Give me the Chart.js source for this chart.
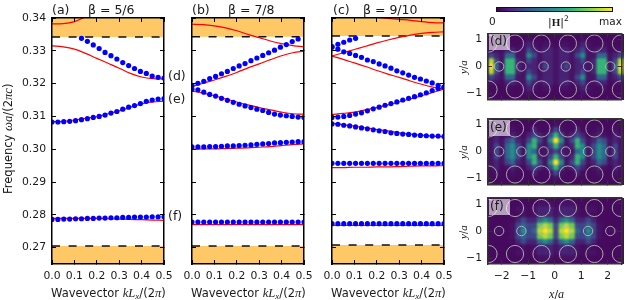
<!DOCTYPE html>
<html>
<head>
<meta charset="utf-8">
<script src="https://cdn.jsdelivr.net/npm/chart.js@4"></script>
<style>
html, body { margin: 0; padding: 0; background: #fff; }
body { width: 631px; height: 300px; position: relative; overflow: hidden; font-family: "DejaVu Sans", sans-serif; color: #1a1a1a; }
canvas { position: absolute; top: 0; filter: blur(0.35px); }
.clip { position: absolute; left: 488px; width: 136px; height: 66px; overflow: hidden; background: #460b5e; }
.clip canvas { left: -28px; filter: blur(1.3px); }
.t { position: absolute; white-space: nowrap; line-height: 1; }
.t i { font-family: "Liberation Serif", serif; font-size: 110%; }
.t b { font-family: "Liberation Serif", serif; }
.t sub { font-size: 70%; vertical-align: -2px; line-height: 0; }
.t sup { font-size: 70%; vertical-align: 5px; line-height: 0; }
.up { transform-origin: 0 0; transform: rotate(-90deg); }
.tag { position: absolute; width: 21px; height: 16px; background: rgba(255,255,255,0.6); font-size: 12px; line-height: 15px; padding-left: 1px; box-sizing: border-box; }
#cbar { position: absolute; left: 496px; top: 6.5px; width: 117px; height: 5px; border: 1px solid #111; box-sizing: border-box;
  background: linear-gradient(to right, #440154, #482878, #3e4989, #31688e, #26828e, #1f9e89, #35b779, #6ece58, #b5de2b, #fde725); }
</style>
</head>
<body>
<canvas id="chA" width="180" height="300" style="left:0"></canvas>
<canvas id="chB" width="180" height="300" style="left:140px"></canvas>
<canvas id="chC" width="180" height="300" style="left:280px"></canvas>
<div class="clip" style="top:33.5px"><canvas id="cellsD" width="171" height="300" style="top:-33.5px"></canvas></div>
<div class="clip" style="top:118.5px"><canvas id="cellsE" width="171" height="300" style="top:-118.5px"></canvas></div>
<div class="clip" style="top:198px"><canvas id="cellsF" width="171" height="300" style="top:-198px"></canvas></div>
<canvas id="heatD" width="171" height="300" style="left:460px"></canvas>
<canvas id="heatE" width="171" height="300" style="left:460px"></canvas>
<canvas id="heatF" width="171" height="300" style="left:460px"></canvas>

<div class="t" style="left:52px;top:4px;font-size:12.5px">(a)</div>
<div class="t" style="left:88px;top:4px;font-size:12.5px">β = 5/6</div>
<div class="t" style="left:192px;top:4px;font-size:12.5px">(b)</div>
<div class="t" style="left:228px;top:4px;font-size:12.5px">β = 7/8</div>
<div class="t" style="left:333px;top:4px;font-size:12.5px">(c)</div>
<div class="t" style="left:363px;top:4px;font-size:12.5px">β = 9/10</div>
<div class="t" style="left:168px;top:70px;font-size:12.5px">(d)</div>
<div class="t" style="left:168px;top:93px;font-size:12.5px">(e)</div>
<div class="t" style="left:168px;top:210px;font-size:12.5px">(f)</div>

<div class="t up" style="left:2px;top:194px;font-size:11.5px">Frequency <i>ωa</i>/(2<i>πc</i>)</div>
<div class="t" style="left:51px;top:287px;font-size:11.5px">Wavevector <i>kL<sub>x</sub></i>/(2<i>π</i>)</div>
<div class="t" style="left:191px;top:287px;font-size:11.5px">Wavevector <i>kL<sub>x</sub></i>/(2<i>π</i>)</div>
<div class="t" style="left:331px;top:287px;font-size:11.5px">Wavevector <i>kL<sub>x</sub></i>/(2<i>π</i>)</div>

<div id="cbar"></div>
<div class="t" style="left:489px;top:16px;font-size:10.5px">0</div>
<div class="t" style="left:548px;top:17px;font-size:11px">|<b>H</b>|<sup>2</sup></div>
<div class="t" style="left:599px;top:16px;font-size:10.5px">max</div>
<div class="t up" style="left:458px;top:74px;font-size:10px"><i>y</i>/<i>a</i></div>
<div class="t up" style="left:458px;top:159px;font-size:10px"><i>y</i>/<i>a</i></div>
<div class="t up" style="left:458px;top:239px;font-size:10px"><i>y</i>/<i>a</i></div>
<div class="t" style="left:549px;top:288px;font-size:11px"><i>x</i>/<i>a</i></div>
<div class="tag" style="left:489px;top:34px">(d)</div>
<div class="tag" style="left:489px;top:120px">(e)</div>
<div class="tag" style="left:489px;top:199px">(f)</div>

<script>
const freqTicks = [0.27, 0.28, 0.29, 0.30, 0.31, 0.32, 0.33, 0.34];
const waveTicks = [0, 0.1, 0.2, 0.3, 0.4, 0.5];
const xaTicks = [-2, -1, 0, 1, 2];
const yaTicks = [-1, 0, 1];

// k values of the simulated points and of the model curves
const kDots = [0, 0.0263, 0.0526, 0.0789, 0.1053, 0.1316, 0.1579, 0.1842, 0.2105, 0.2368, 0.2632, 0.2895, 0.3158, 0.3421, 0.3684, 0.3947, 0.4211, 0.4474, 0.4737, 0.5];
const kLine = [0, 0.05, 0.1, 0.15, 0.2, 0.25, 0.3, 0.35, 0.4, 0.45, 0.5];

// panel (a)
const dotsA1 = [0.3338, 0.3329, 0.3318, 0.3307, 0.3295, 0.3285, 0.3275, 0.3264, 0.3255, 0.3246, 0.3237, 0.3231, 0.3223, 0.3219, 0.3217];
const dotsA2 = [0.3083, 0.3083, 0.3084, 0.3085, 0.3087, 0.3090, 0.3093, 0.3097, 0.3100, 0.3104, 0.3110, 0.3115, 0.3122, 0.3128, 0.3133, 0.3139, 0.3146, 0.3150, 0.3153, 0.3154];
const dotsA3 = [0.2786, 0.2786, 0.2787, 0.2787, 0.2788, 0.2788, 0.2789, 0.2789, 0.2790, 0.2790, 0.2791, 0.2791, 0.2792, 0.2792, 0.2793, 0.2793, 0.2793, 0.2794, 0.2794, 0.2794];
const lineA0 = [0.3382, 0.3383, 0.3389, 0.3404];
const lineA1 = [0.3315, 0.3312, 0.3305, 0.3292, 0.3277, 0.3262, 0.3247, 0.3231, 0.3220, 0.3215, 0.3214];
const lineA2 = [0.3084, 0.3085, 0.3089, 0.3094, 0.3099, 0.3108, 0.3117, 0.3128, 0.3138, 0.3144, 0.3146];
const lineA3 = [0.2789, 0.2789, 0.2789, 0.2789, 0.2789, 0.2788, 0.2787, 0.2786, 0.2785, 0.2784, 0.2783];

// panel (b)
const dotsB1 = [0.3194, 0.3201, 0.3207, 0.3215, 0.3222, 0.3230, 0.3237, 0.3246, 0.3254, 0.3261, 0.3270, 0.3278, 0.3286, 0.3294, 0.3302, 0.3311, 0.3319, 0.3328, 0.3336];
const dotsB2 = [0.3183, 0.3181, 0.3174, 0.3167, 0.3162, 0.3155, 0.3149, 0.3143, 0.3137, 0.3132, 0.3127, 0.3122, 0.3118, 0.3112, 0.3107, 0.3104, 0.3102, 0.3100, 0.3098, 0.3097];
const dotsB3 = [0.3007, 0.3007, 0.3007, 0.3008, 0.3008, 0.3009, 0.3010, 0.3010, 0.3011, 0.3012, 0.3013, 0.3015, 0.3016, 0.3017, 0.3019, 0.3020, 0.3021, 0.3022, 0.3023, 0.3023];
const dotsB4 = [0.2778, 0.2778, 0.2778, 0.2778, 0.2778, 0.2778, 0.2778, 0.2778, 0.2778, 0.2778, 0.2778, 0.2778, 0.2778, 0.2778, 0.2778, 0.2778, 0.2778, 0.2778, 0.2778, 0.2778];
const lineB0 = [0.3381, 0.3380, 0.3376, 0.3370, 0.3361, 0.3350, 0.3340, 0.3330, 0.3322, 0.3316, 0.3312];
const lineB1 = [0.3191, 0.3201, 0.3211, 0.3222, 0.3234, 0.3248, 0.3260, 0.3273, 0.3285, 0.3294, 0.3299];
const lineB2 = [0.3177, 0.3171, 0.3163, 0.3153, 0.3144, 0.3135, 0.3127, 0.3120, 0.3113, 0.3108, 0.3107];
const lineB3 = [0.3000, 0.3001, 0.3001, 0.3002, 0.3003, 0.3004, 0.3006, 0.3008, 0.3011, 0.3014, 0.3016];
const lineB4 = [0.2770, 0.2770, 0.2770, 0.2770, 0.2770, 0.2770, 0.2770, 0.2770, 0.2770, 0.2770, 0.2770];

// panel (c)
const dotsC1 = [0.3313, 0.3320, 0.3326, 0.3333, 0.3338];
const dotsC2 = [0.3311, 0.3305, 0.3297, 0.3292, 0.3286, 0.3280, 0.3272, 0.3267, 0.3260, 0.3254, 0.3247, 0.3239, 0.3233, 0.3226, 0.3219, 0.3214, 0.3208, 0.3202, 0.3195, 0.3189];
const dotsC3 = [0.3097, 0.3098, 0.3100, 0.3103, 0.3107, 0.3111, 0.3117, 0.3123, 0.3128, 0.3134, 0.3139, 0.3144, 0.3150, 0.3155, 0.3160, 0.3166, 0.3172, 0.3179, 0.3185, 0.3189];
const dotsC4 = [0.3077, 0.3076, 0.3073, 0.3071, 0.3068, 0.3065, 0.3062, 0.3059, 0.3056, 0.3054, 0.3050, 0.3048, 0.3046, 0.3045, 0.3043, 0.3042, 0.3041, 0.3040, 0.3040, 0.3039];
const dotsC5 = [0.2957, 0.2957, 0.2957, 0.2957, 0.2957, 0.2957, 0.2957, 0.2957, 0.2957, 0.2957, 0.2957, 0.2957, 0.2957, 0.2957, 0.2957, 0.2957, 0.2957, 0.2957, 0.2957, 0.2957];
const dotsC6 = [0.2773, 0.2773, 0.2773, 0.2773, 0.2773, 0.2773, 0.2773, 0.2773, 0.2773, 0.2773, 0.2773, 0.2773, 0.2773, 0.2773, 0.2773, 0.2773, 0.2773, 0.2773, 0.2773, 0.2773];
const lineC0 = [0.3420, 0.3414, 0.3409, 0.3405, 0.3402, 0.3399, 0.3396, 0.3393, 0.3389, 0.3386, 0.3385];
const lineC1 = [0.3284, 0.3294, 0.3304, 0.3314, 0.3324, 0.3333, 0.3341, 0.3348, 0.3353, 0.3356, 0.3358];
const lineC2 = [0.3284, 0.3274, 0.3263, 0.3252, 0.3240, 0.3229, 0.3219, 0.3208, 0.3198, 0.3189, 0.3183];
const lineC3 = [0.3106, 0.3109, 0.3113, 0.3120, 0.3127, 0.3135, 0.3144, 0.3153, 0.3163, 0.3173, 0.3183];
const lineC4 = [0.3079, 0.3075, 0.3070, 0.3065, 0.3060, 0.3056, 0.3050, 0.3046, 0.3043, 0.3040, 0.3038];
const lineC5 = [0.2944, 0.2944, 0.2945, 0.2945, 0.2946, 0.2946, 0.2947, 0.2948, 0.2949, 0.2949, 0.2950];
const lineC6 = [0.2768, 0.2768, 0.2768, 0.2768, 0.2768, 0.2768, 0.2768, 0.2768, 0.2768, 0.2768, 0.2768];

// field maps, rows from y=1.2 down to y=-1.2, columns x=-2.4..2.4, levels 0..9
const gridX = [-2.4, -2.2, -2.0, -1.8, -1.6, -1.4, -1.2, -1.0, -0.8, -0.6, -0.4, -0.2, 0, 0.2, 0.4, 0.6, 0.8, 1.0, 1.2, 1.4, 1.6, 1.8, 2.0, 2.2, 2.4];
const gridY = [1.2, 1.0, 0.8, 0.6, 0.4, 0.2, 0, -0.2, -0.4, -0.6, -0.8, -1.0, -1.2];
const fieldD = [
  [0,0,0,0,0,0,0,0,0,0,0,0,0,0,0,0,0,0,0,0,0,0,0,0,0],
  [0,0,0,0,0,0,0,1,0,0,0,0,0,0,0,0,0,1,0,0,0,0,0,0,0],
  [0,0,0,1,0,0,1,2,1,0,1,1,0,1,1,0,1,2,1,0,0,1,0,0,0],
  [1,1,0,2,2,1,1,3,2,1,2,2,1,2,2,1,2,3,1,1,2,2,0,1,1],
  [3,2,1,4,4,1,1,5,3,1,2,2,1,2,2,1,3,5,1,1,4,4,1,2,3],
  [8,3,1,6,6,2,1,3,2,1,2,2,1,2,2,1,2,3,1,2,6,6,1,3,8],
  [9,4,1,6,6,2,1,2,2,1,3,2,1,2,3,1,2,2,1,2,6,6,1,4,9],
  [8,3,1,6,6,2,1,3,2,1,2,2,1,2,2,1,2,3,1,2,6,6,1,3,8],
  [3,2,1,4,4,1,1,5,3,1,2,2,1,2,2,1,3,5,1,1,4,4,1,2,3],
  [1,1,0,2,2,1,1,3,2,1,2,2,1,2,2,1,2,3,1,1,2,2,0,1,1],
  [0,0,0,1,0,0,1,2,1,0,1,1,0,1,1,0,1,2,1,0,0,1,0,0,0],
  [0,0,0,0,0,0,0,1,0,0,0,0,0,0,0,0,0,1,0,0,0,0,0,0,0],
  [0,0,0,0,0,0,0,0,0,0,0,0,0,0,0,0,0,0,0,0,0,0,0,0,0]
];
const fieldE = [
  [0,0,0,0,0,0,0,0,0,0,0,0,0,0,0,0,0,0,0,0,0,0,0,0,0],
  [0,0,0,0,0,0,0,0,0,0,0,0,1,0,0,0,0,0,0,0,0,0,0,0,0],
  [0,1,0,0,1,0,0,0,2,0,0,1,3,1,0,0,2,0,0,0,1,0,0,1,0],
  [1,2,0,1,2,1,0,2,3,2,1,3,6,3,1,2,3,2,0,1,2,1,0,2,1],
  [1,2,1,3,4,2,1,3,6,3,1,5,9,5,1,3,6,3,1,2,4,3,1,2,1],
  [1,3,1,4,5,3,1,5,6,2,1,3,6,3,1,2,6,5,1,3,5,4,1,3,1],
  [1,3,1,4,5,3,1,5,4,1,1,2,3,2,1,1,4,5,1,3,5,4,1,3,1],
  [1,3,1,4,5,3,1,5,6,2,1,3,6,3,1,2,6,5,1,3,5,4,1,3,1],
  [1,2,1,3,4,2,1,3,6,3,1,5,9,5,1,3,6,3,1,2,4,3,1,2,1],
  [1,2,0,1,2,1,0,2,3,2,1,3,6,3,1,2,3,2,0,1,2,1,0,2,1],
  [0,1,0,0,1,0,0,0,2,0,0,1,3,1,0,0,2,0,0,0,1,0,0,1,0],
  [0,0,0,0,0,0,0,0,0,0,0,0,1,0,0,0,0,0,0,0,0,0,0,0,0],
  [0,0,0,0,0,0,0,0,0,0,0,0,0,0,0,0,0,0,0,0,0,0,0,0,0]
];
const fieldF = [
  [0,0,0,0,0,0,0,0,0,0,0,0,0,0,0,0,0,0,0,0,0,0,0,0,0],
  [0,0,0,0,0,0,0,0,0,1,1,1,0,1,1,1,0,0,0,0,0,0,0,0,0],
  [0,0,0,0,0,1,1,0,1,2,2,2,1,2,2,2,1,0,1,1,0,0,0,0,0],
  [0,0,0,0,0,0,1,0,1,2,2,2,1,2,2,2,1,0,1,0,0,0,0,0,0],
  [0,0,0,0,0,2,3,2,2,4,5,4,2,4,5,4,2,2,3,2,0,0,0,0,0],
  [0,0,0,0,1,3,4,3,3,7,8,7,3,7,8,7,3,3,4,3,1,0,0,0,0],
  [0,1,1,0,1,3,5,3,4,8,9,8,3,8,9,8,4,3,5,3,1,0,1,1,0],
  [0,0,0,0,1,3,4,3,3,7,8,7,3,7,8,7,3,3,4,3,1,0,0,0,0],
  [0,0,0,0,0,2,3,2,2,4,5,4,2,4,5,4,2,2,3,2,0,0,0,0,0],
  [0,0,0,0,0,0,1,0,1,2,2,2,1,2,2,2,1,0,1,0,0,0,0,0,0],
  [0,0,0,0,0,1,1,0,1,2,2,2,1,2,2,2,1,0,1,1,0,0,0,0,0],
  [0,0,0,0,0,0,0,0,0,1,1,1,0,1,1,1,0,0,0,0,0,0,0,0,0],
  [0,0,0,0,0,0,0,0,0,0,0,0,0,0,0,0,0,0,0,0,0,0,0,0,0]
];
// hole centres of the waveguide
const holesBigX = [-2.5, -1.5, -0.5, 0.5, 1.5, 2.5];
const holesBigY = [0.85, -0.85];
const holesSmallX = [-2.1, -1.26, -0.42, 0.42, 1.26, 2.1];

const fieldColors = ['#460b5e', '#471365', '#482475', '#3e4989', '#31688e', '#21908c', '#35b779', '#6ece58', '#b5de2b', '#fde725'];
const bandColor = '#fec866';

function toPoints(xs, ys) {
    return ys.map((y, i) => ({ x: xs[i], y: y }));
}

function dots(ys, start) {
    return {
        data: toPoints(kDots.slice(start || 0), ys),
        showLine: false,
        pointRadius: 2.6,
        pointBackgroundColor: '#0000ff',
        pointBorderWidth: 0
    };
}

function redLine(ys) {
    return {
        data: toPoints(kLine, ys),
        showLine: true,
        borderColor: '#ff0000',
        borderWidth: 1.2,
        pointRadius: 0,
        cubicInterpolationMode: 'monotone'
    };
}

function band(edge, limit) {
    return {
        data: toPoints([0, 0.5], [limit, limit]),
        showLine: true,
        borderWidth: 0,
        pointRadius: 0,
        backgroundColor: bandColor,
        fill: { value: edge }
    };
}

function dashed(edge) {
    return {
        data: toPoints([0, 0.5], [edge, edge]),
        showLine: true,
        borderColor: '#111',
        borderWidth: 1.4,
        borderDash: [8, 8.6],
        pointRadius: 0
    };
}

// fixed box for a scale so the frames land where they should
function pinned(size) {
    return function(scale) {
        if (scale.isHorizontal()) scale.height = size; else scale.width = size;
        scale.paddingLeft = 0;
        scale.paddingRight = 0;
        scale.paddingTop = 0;
        scale.paddingBottom = 0;
    };
}

function axis(position, lo, hi, ticks, o) {
    const line = o.color;
    return {
        type: 'linear',
        position: position,
        min: lo,
        max: hi,
        afterBuildTicks: scale => { scale.ticks = ticks.map(v => ({ value: v })); },
        afterFit: pinned(o.size),
        border: { display: true, color: line, width: o.border, z: 2 },
        grid: { drawOnChartArea: false, drawTicks: true, tickLength: -o.tick, color: line, tickColor: line, tickWidth: 1, z: 1 },
        ticks: {
            display: o.labels,
            autoSkip: false,
            maxRotation: 0,
            padding: o.pad,
            color: '#1a1a1a',
            font: { family: 'DejaVu Sans', size: o.fontSize },
            callback: o.format
        }
    };
}

function frameOptions(box, xRange, yRange, xt, yt, showX, showY, xFormat, yFormat, color, border) {
    const left = { size: box.left, color: color, border: border, tick: 4, labels: showY, pad: 10, fontSize: 10.8, format: yFormat };
    const bottom = { size: box.height - box.bottom, color: color, border: border, tick: 4, labels: showX, pad: 10, fontSize: 10.8, format: xFormat };
    const other = { size: 0, color: color, border: border, tick: 4, labels: false, pad: 0, fontSize: 10 };
    return {
        responsive: false,
        animation: false,
        events: [],
        layout: { padding: { left: 0, right: box.width - box.right, top: box.top, bottom: 0 } },
        plugins: { legend: { display: false }, title: { display: false }, tooltip: { enabled: false } },
        scales: {
            x: axis('bottom', xRange[0], xRange[1], xt, bottom),
            y: axis('left', yRange[0], yRange[1], yt, left),
            x2: axis('top', xRange[0], xRange[1], xt, other),
            y2: axis('right', yRange[0], yRange[1], yt, other)
        }
    };
}

function dispersion(id, left, right, showY, upper, lower, marks) {
    const datasets = marks.concat([dashed(upper), dashed(lower), band(upper, 0.34), band(lower, 0.265)]);
    new Chart(document.getElementById(id), {
        type: 'scatter',
        data: { datasets: datasets },
        options: frameOptions({ left: left, right: right, top: 18, bottom: 264, width: 180, height: 300 },
            [0, 0.5], [0.265, 0.34], waveTicks, freqTicks, true, showY,
            v => v.toFixed(1), v => v.toFixed(2), '#000', 1.5)
    });
}

function fieldMap(cellsId, frameId, top, bottom, rows, showX) {
    const cells = [];
    const colors = [];
    rows.forEach((row, r) => row.forEach((level, c) => {
        cells.push({ x: gridX[c], y: gridY[r] });
        colors.push(fieldColors[level]);
    }));
    const big = [];
    holesBigY.forEach(y => holesBigX.forEach(x => big.push({ x: x, y: y })));
    const small = holesSmallX.map(x => ({ x: x, y: 0 }));
    const ring = (data, radius) => ({
        data: data,
        showLine: false,
        pointRadius: radius,
        pointBackgroundColor: 'transparent',
        pointBorderColor: 'rgba(190,190,190,0.85)',
        pointBorderWidth: 1
    });
    const format = v => String(v).replace('-', '\u2212');
    const build = function() {
        return frameOptions({ left: 28, right: 164, top: top, bottom: bottom, width: 171, height: 300 },
            [-2.52, 2.52], [-1.22, 1.22], xaTicks, yaTicks, showX, true, format, format, '#333', 1.5);
    };
    // the colour cells sit on their own softened canvas, the frame and holes stay sharp on top
    const under = build();
    Object.values(under.scales).forEach(s => {
        s.border.display = false;
        s.grid.display = false;
        s.ticks.display = false;
    });
    new Chart(document.getElementById(cellsId), {
        type: 'scatter',
        data: { datasets: [{ data: cells, clip: false, showLine: false, pointStyle: 'rect', pointRadius: 4, pointBorderWidth: 0, pointBackgroundColor: colors }] },
        options: under
    });
    new Chart(document.getElementById(frameId), {
        type: 'scatter',
        data: { datasets: [ring(small, 4.7), ring(big, 8.6)] },
        options: build()
    });
}

document.addEventListener('DOMContentLoaded', function() {
    dispersion('chA', 52, 164, true, 0.3342, 0.2705, [
        dots(dotsA1, 5), dots(dotsA2), dots(dotsA3),
        { ...redLine(lineA0), data: toPoints([0, 0.05, 0.1, 0.15], lineA0) }, redLine(lineA1), redLine(lineA2), redLine(lineA3)
    ]);
    dispersion('chB', 52, 164, false, 0.3343, 0.2705, [
        dots(dotsB1), dots(dotsB2), dots(dotsB3), dots(dotsB4),
        redLine(lineB0), redLine(lineB1), redLine(lineB2), redLine(lineB3), redLine(lineB4)
    ]);
    dispersion('chC', 52, 164, false, 0.3345, 0.2708, [
        dots(dotsC1), dots(dotsC2), dots(dotsC3), dots(dotsC4), dots(dotsC5), dots(dotsC6),
        redLine(lineC0), redLine(lineC1), redLine(lineC2), redLine(lineC3), redLine(lineC4), redLine(lineC5), redLine(lineC6)
    ]);
    fieldMap('cellsD', 'heatD', 33.5, 99.5, fieldD, false);
    fieldMap('cellsE', 'heatE', 118.5, 184.5, fieldE, false);
    fieldMap('cellsF', 'heatF', 198, 264, fieldF, true);
});
</script>
</body>
</html>
